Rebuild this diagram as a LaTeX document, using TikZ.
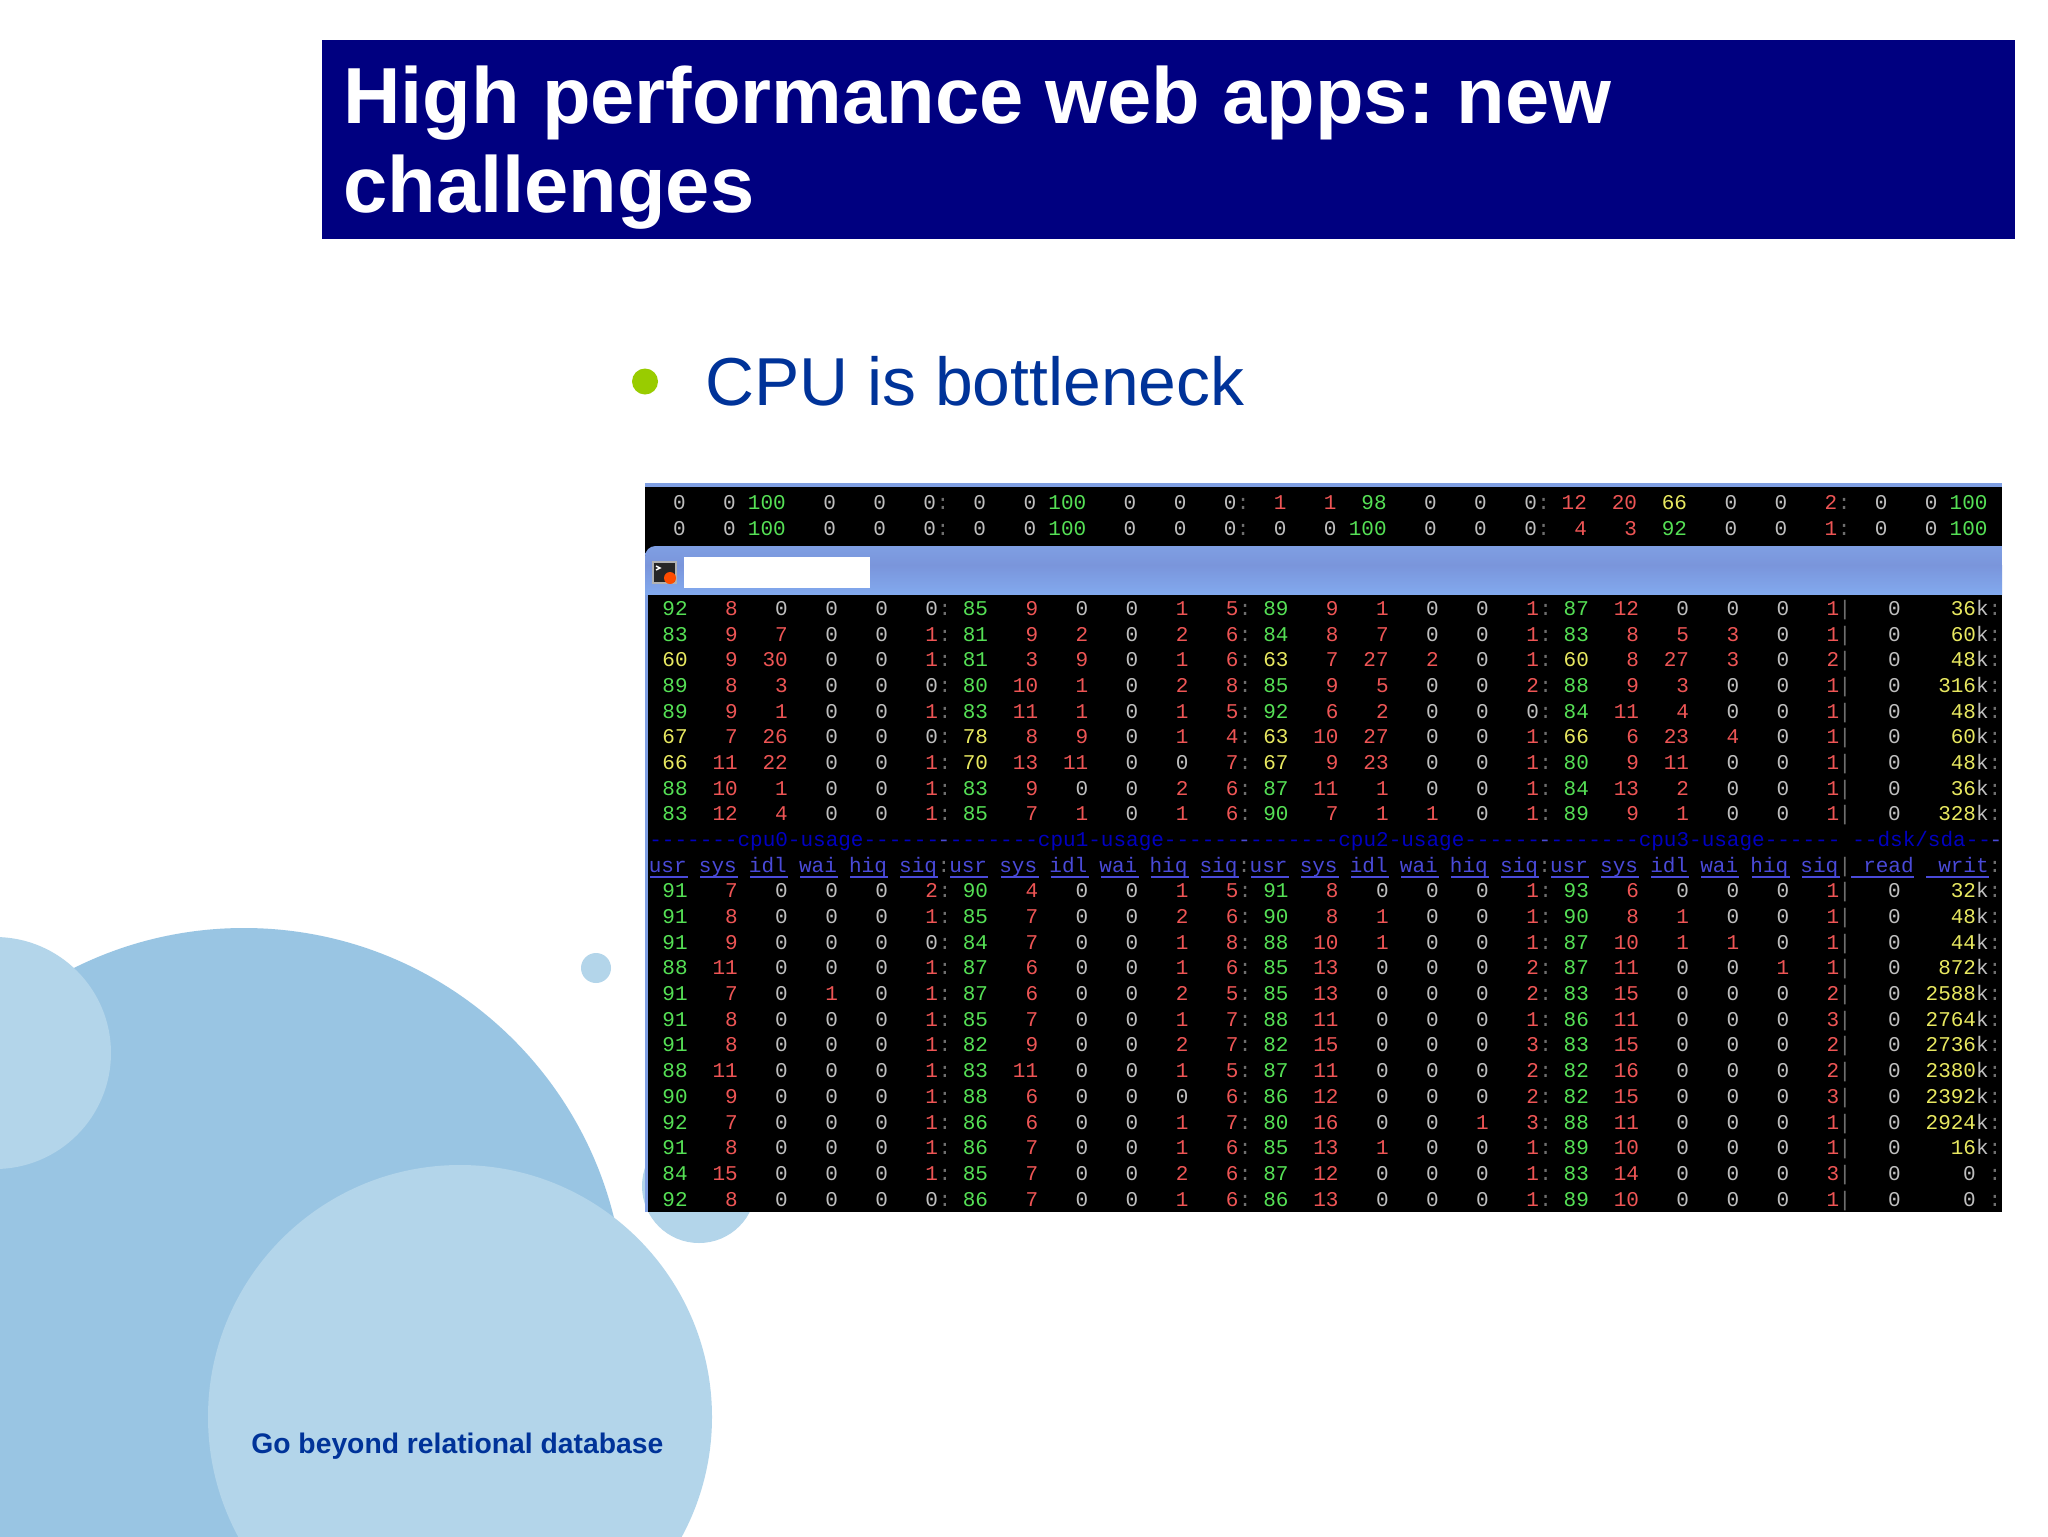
\documentclass[tikz,border=0pt]{standalone}
\usepackage{fontspec}
\setmainfont{Liberation Sans}
\setmonofont{Liberation Mono}
\definecolor{title_blue}{HTML}{000080}
\definecolor{text_blue}{HTML}{003399}
\definecolor{bullet_green}{HTML}{99CC00}
\definecolor{disc_dark}{HTML}{99C5E3}
\definecolor{disc_light}{HTML}{B3D5EA}
\definecolor{bar_top}{HTML}{7F9FE3}
\definecolor{bar_mid}{HTML}{7A95DB}
\definecolor{bar_low}{HTML}{82A9EE}
\definecolor{stat_red}{HTML}{EE5555}
\definecolor{stat_green}{HTML}{55E055}
\definecolor{stat_yellow}{HTML}{E8E860}
\definecolor{stat_grey}{HTML}{BEBEBE}
\definecolor{stat_dim}{HTML}{6E6E6E}
\definecolor{head_dark}{HTML}{0000C0}
\definecolor{head_blue}{HTML}{4A4AD8}
\newcommand{\statcolor}[1]{%
  \ifnum#1=0 \def\statc{stat_grey}\else
  \ifnum#1<50 \def\statc{stat_red}\else
  \ifnum#1<80 \def\statc{stat_yellow}\else
  \def\statc{stat_green}\fi\fi\fi}
\frenchspacing
\begin{document}
\begin{tikzpicture}[x=0.2mm,y=-0.2mm,
    stat_text/.style={anchor=base east,inner sep=0pt,font=\ttfamily\fontsize{11.95}{12}\selectfont},
    dim_text/.style={stat_text,anchor=base,text=stat_dim},
    head_text/.style={stat_text,text=head_blue},
    dash_text/.style={stat_text,anchor=base west,text=head_dark},
    title_text/.style={anchor=base west,inner sep=0pt,text=white,font=\bfseries\fontsize{45.25}{50}\selectfont}]
\useasboundingbox (0,0) rectangle (2048,1536);
\fill[white] (0,0) rectangle (2048,1536);

% discs at the lower left
\begin{scope}
  \clip (0,0) rectangle (2048,1536);
  \fill[disc_dark] (244,1309) circle (381);
  \fill[disc_light] (-5,1053) circle (116);
  \fill[disc_light] (460,1417) circle (252);
  \fill[disc_light] (596,968) circle (15);
  \fill[disc_light] (699,1186) circle (57);
\end{scope}
\node[anchor=base west,inner sep=0pt,font=\bfseries\fontsize{16.1}{18}\selectfont,text=text_blue] (footer) at (251,1453) {Go beyond relational database};

% title band
\fill[title_blue] (322,40) rectangle (2015,239);
\node[title_text] (title1) at (343,123) {High performance web apps: new};
\node[title_text] (title2) at (343,212) {challenges};

% bullet
\fill[bullet_green] (645,381.5) circle (13);
\node[anchor=base west,inner sep=0pt,text=text_blue,font=\fontsize{38.6}{42}\selectfont] (point) at (705,405.5) {CPU is bottleneck};

% the terminal windows
\fill[black] (645,483) rectangle (2002,1212);
\fill[bar_top] (645,483) rectangle (2002,487);
\fill[bar_top] (645,594) rectangle (648,1212);
\shade[top color=bar_top,bottom color=bar_mid] (645,565) [rounded corners=6] -- (645,546) [sharp corners] -- (2002,546) -- (2002,565) -- cycle;
\shade[top color=bar_mid,bottom color=bar_low] (645,565) rectangle (2002,594);
\fill[white] (684,557) rectangle (870,588);
\fill[black!85,draw=black!30,line width=0.8] (653,562) rectangle (676,583);
\draw[white,line width=0.8] (656,566) -- (660,568) -- (656,570);
\fill[orange!60!red] (670,578) circle (6);

% upper window, two rows
\foreach \statrow/\rowy [count=\r] in {{0,0,100,0,0,0,0,0,100,0,0,0,1,1,98,0,0,0,12,20,66,0,0,2,0,0,100}/509,{0,0,100,0,0,0,0,0,100,0,0,0,0,0,100,0,0,0,4,3,92,0,0,1,0,0,100}/535}{
  \foreach \v [count=\c from 0] in \statrow {
    \statcolor{\v}
    \node[stat_text,text=\statc] (t\r c\c) at (686+50.07*\c,\rowy) {\v};
  }
  \foreach \k in {5,11,17,23}
    \node[dim_text] (t\r k\k) at (692.5+50.07*\k,\rowy) {:};
}

% lower window, first nine rows and last thirteen rows
\foreach \statrow/\writ/\rowy [count=\r] in {
{92,8,0,0,0,0,85,9,0,0,1,5,89,9,1,0,0,1,87,12,0,0,0,1}/36/615.5,
{83,9,7,0,0,1,81,9,2,0,2,6,84,8,7,0,0,1,83,8,5,3,0,1}/60/641.2,
{60,9,30,0,0,1,81,3,9,0,1,6,63,7,27,2,0,1,60,8,27,3,0,2}/48/666.8,
{89,8,3,0,0,0,80,10,1,0,2,8,85,9,5,0,0,2,88,9,3,0,0,1}/316/692.5,
{89,9,1,0,0,1,83,11,1,0,1,5,92,6,2,0,0,0,84,11,4,0,0,1}/48/718.2,
{67,7,26,0,0,0,78,8,9,0,1,4,63,10,27,0,0,1,66,6,23,4,0,1}/60/743.9,
{66,11,22,0,0,1,70,13,11,0,0,7,67,9,23,0,0,1,80,9,11,0,0,1}/48/769.5,
{88,10,1,0,0,1,83,9,0,0,2,6,87,11,1,0,0,1,84,13,2,0,0,1}/36/795.2,
{83,12,4,0,0,1,85,7,1,0,1,6,90,7,1,1,0,1,89,9,1,0,0,1}/328/820.9,
{91,7,0,0,0,2,90,4,0,0,1,5,91,8,0,0,0,1,93,6,0,0,0,1}/32/897.9,
{91,8,0,0,0,1,85,7,0,0,2,6,90,8,1,0,0,1,90,8,1,0,0,1}/48/923.6,
{91,9,0,0,0,0,84,7,0,0,1,8,88,10,1,0,0,1,87,10,1,1,0,1}/44/949.2,
{88,11,0,0,0,1,87,6,0,0,1,6,85,13,0,0,0,2,87,11,0,0,1,1}/872/974.9,
{91,7,0,1,0,1,87,6,0,0,2,5,85,13,0,0,0,2,83,15,0,0,0,2}/2588/1000.6,
{91,8,0,0,0,1,85,7,0,0,1,7,88,11,0,0,0,1,86,11,0,0,0,3}/2764/1026.3,
{91,8,0,0,0,1,82,9,0,0,2,7,82,15,0,0,0,3,83,15,0,0,0,2}/2736/1051.9,
{88,11,0,0,0,1,83,11,0,0,1,5,87,11,0,0,0,2,82,16,0,0,0,2}/2380/1077.6,
{90,9,0,0,0,1,88,6,0,0,0,6,86,12,0,0,0,2,82,15,0,0,0,3}/2392/1103.3,
{92,7,0,0,0,1,86,6,0,0,1,7,80,16,0,0,1,3,88,11,0,0,0,1}/2924/1129,
{91,8,0,0,0,1,86,7,0,0,1,6,85,13,1,0,0,1,89,10,0,0,0,1}/16/1154.6,
{84,15,0,0,0,1,85,7,0,0,2,6,87,12,0,0,0,1,83,14,0,0,0,3}/0/1180.3,
{92,8,0,0,0,0,86,7,0,0,1,6,86,13,0,0,0,1,89,10,0,0,0,1}/0/1206}{
  \foreach \v [count=\c from 0] in \statrow {
    \statcolor{\v}
    \node[stat_text,text=\statc] (r\r c\c) at (688+50.07*\c,\rowy) {\v};
  }
  \foreach \k in {5,11,17}
    \node[dim_text] (r\r k\k) at (694.5+50.07*\k,\rowy) {:};
  \node[dim_text] (r\r bar) at (1845,\rowy) {|};
  \node[stat_text,text=stat_grey] (r\r read) at (1901,\rowy) {0};
  \ifnum\writ=0
    \node[stat_text,text=stat_grey] (r\r writ) at (1976,\rowy) {0};
  \else
    \node[stat_text] (r\r writ) at (1989,\rowy) {\textcolor{stat_yellow}{\writ}\textcolor{stat_grey}{k}};
  \fi
  \node[dim_text] (r\r end) at (1995,\rowy) {:};
}

% the two header rows
\foreach \u [count=\g from 0] in {0,1,2,3}{
  \node[dash_text] (cpu\u) at (649+300.4*\g,846.6) {-------cpu\u-usage------};
  \ifnum\g<3
    \node[stat_text,anchor=base,text=head_blue] (gap\u) at (944+300.4*\g,846.6) {-};
  \fi
}
\node[dash_text] (dsk) at (1852,846.6) {--dsk/sda--};
\node[stat_text,anchor=base,text=head_blue] (dskend) at (1996,846.6) {-};
\foreach \h [count=\c from 0] in {usr,sys,idl,wai,hiq,siq,usr,sys,idl,wai,hiq,siq,usr,sys,idl,wai,hiq,siq,usr,sys,idl,wai,hiq,siq}{
  \node[head_text] (h\c) at (687+50.07*\c,872.3) {\h};
  \draw[head_blue,line width=1.2] (650+50.07*\c,877) -- (688+50.07*\c,877);
}
\foreach \k in {5,11,17}
  \node[dim_text] (hk\k) at (693.5+50.07*\k,872.3) {:};
\node[dim_text] (hbar) at (1845,872.3) {|};
\node[head_text] (hread) at (1914,872.3) {read};
\node[head_text] (hwrit) at (1989,872.3) {writ};
\node[dim_text] (hend) at (1995,872.3) {:};
\draw[head_blue,line width=1.2] (1851,877) -- (1914,877);
\draw[head_blue,line width=1.2] (1926,877) -- (1989,877);
\end{tikzpicture}
\end{document}
